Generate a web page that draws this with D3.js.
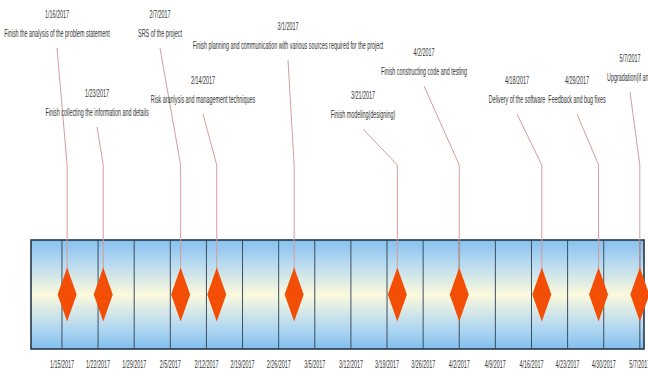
<!DOCTYPE html>
<html>
<head>
<meta charset="utf-8">
<script src="https://cdn.jsdelivr.net/npm/d3@7"></script>
<style>
  html, body { margin: 0; padding: 0; background: #ffffff; }
  svg { display: block; }
  text { font-family: "Liberation Sans", Arial, sans-serif; fill: #333; }
</style>
</head>
<body>
<svg id="chart" width="648" height="376"></svg>
<script>
// Milestones of the project schedule
const milestoneDates = [
  "1/16/2017", "1/23/2017", "2/7/2017", "2/14/2017", "3/1/2017",
  "3/21/2017", "4/2/2017", "4/18/2017", "4/29/2017", "5/7/2017"
];
const milestoneNames = [
  "Finish the analysis of the problem statement",
  "Finish collecting the information and details",
  "SRS of the project",
  "Risk aranlysis and management techniques",
  "Finish planning and communication with various sources required for the project",
  "Finish modeling(designing)",
  "Finish constructing code and testing",
  "Delivery of the software",
  "Feedback and bug fixes",
  "Upgradation(if any)"
];
// Timeline span and weekly axis ticks
const timelineStart = "1/9/2017";
const timelineEnd = "5/8/2017";
const tickDates = [
  "1/15/2017", "1/22/2017", "1/29/2017", "2/5/2017", "2/12/2017", "2/19/2017",
  "2/26/2017", "3/5/2017", "3/12/2017", "3/19/2017", "3/26/2017", "4/2/2017",
  "4/9/2017", "4/16/2017", "4/23/2017", "4/30/2017", "5/7/2017"
];

// Callout placement: label centre x (pixels) and the vertical row of each callout
const calloutX = [57, 97, 160, 203, 288, 363, 424, 517, 577, 630];
const calloutY = [14, 93, 14, 80, 26, 95, 52, 80, 80, 58];

const parse = d3.timeParse("%m/%d/%Y");
const fmt = d3.timeFormat("%-m/%-d/%Y");

const svg = d3.select("#chart");
const band = { top: 240, bottom: 349 };
const midY = (band.top + band.bottom) / 2;
const kneeY = 165;
const squeeze = 0.47;

const x = d3.scaleTime()
  .domain([parse(timelineStart), parse(timelineEnd)])
  .range([31, 645]);

// Band gradient: blue at the edges, pale cream in the centre
const defs = svg.append("defs");
const grad = defs.append("linearGradient")
  .attr("id", "bandFill").attr("x1", 0).attr("y1", 0).attr("x2", 0).attr("y2", 1);
[[0, "#86c1ee"], [0.2, "#b3d8f1"], [0.5, "#fcf9dc"], [0.8, "#b3d8f1"], [1, "#82bfee"]]
  .forEach(([o, c]) => grad.append("stop").attr("offset", o).attr("stop-color", c));

svg.append("rect")
  .attr("x", x.range()[0]).attr("y", band.top)
  .attr("width", x.range()[1] - x.range()[0] - 1)
  .attr("height", band.bottom - band.top)
  .attr("fill", "url(#bandFill)");

// Weekly gridlines
const ticks = tickDates.map(parse);
svg.append("g").selectAll("line")
  .data(ticks).join("line")
  .attr("x1", d => x(d)).attr("x2", d => x(d))
  .attr("y1", band.top).attr("y2", band.bottom)
  .attr("stroke", "#3e4e5e").attr("stroke-width", 1);

// Band frame
svg.append("rect")
  .attr("x", x.range()[0]).attr("y", band.top)
  .attr("width", x.range()[1] - x.range()[0] - 1)
  .attr("height", band.bottom - band.top)
  .attr("fill", "none").attr("stroke", "#26384a").attr("stroke-width", 1.6);

// Axis labels below the band
svg.append("g").selectAll("text")
  .data(ticks).join("text")
  .attr("transform", d => `translate(${x(d)},${band.bottom + 15}) scale(${squeeze},1)`)
  .attr("text-anchor", "middle")
  .attr("dominant-baseline", "central")
  .style("font-size", "11.5px")
  .text(d => fmt(d));

const items = milestoneDates.map((d, i) => ({
  date: parse(d), label: d, name: milestoneNames[i], lx: calloutX[i], ly: calloutY[i]
}));

// Leader lines from each callout to its milestone
svg.append("g").selectAll("polyline")
  .data(items).join("polyline")
  .attr("points", d => [
    [d.lx, d.ly + 34], [x(d.date), kneeY], [x(d.date), midY]
  ].map(p => p.join(",")).join(" "))
  .attr("fill", "none")
  .attr("stroke", "#d59c9c").attr("stroke-width", 1);

// Diamond markers
svg.append("g").selectAll("path")
  .data(items).join("path")
  .attr("d", d => {
    const cx = x(d.date);
    return `M${cx},${midY - 27}L${cx + 9.5},${midY}L${cx},${midY + 27}L${cx - 9.5},${midY}Z`;
  })
  .attr("fill", "#f24e06");

// Callout text: date on top, description below
const callouts = svg.append("g").selectAll("g")
  .data(items).join("g");
callouts.append("text")
  .attr("transform", d => `translate(${d.lx},${d.ly}) scale(${squeeze},1)`)
  .attr("text-anchor", "middle").attr("dominant-baseline", "central")
  .style("font-size", "11.5px")
  .text(d => d.label);
callouts.append("text")
  .attr("transform", d => `translate(${d.lx},${d.ly + 19}) scale(${squeeze},1)`)
  .attr("text-anchor", "middle").attr("dominant-baseline", "central")
  .style("font-size", "11.5px")
  .text(d => d.name);
</script>
</body>
</html>
